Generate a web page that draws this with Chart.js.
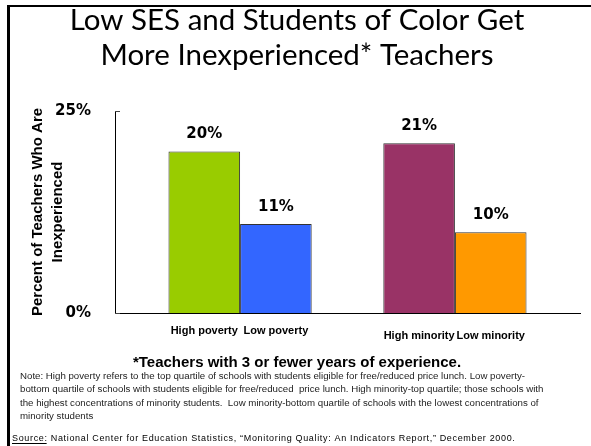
<!DOCTYPE html>
<html>
<head>
<meta charset="utf-8">
<script src="https://cdn.jsdelivr.net/npm/chart.js@4.4.1/dist/chart.umd.min.js"></script>
<style>
    html, body { margin: 0; padding: 0; background: #fff; }
    canvas { display: block; }
</style>
</head>
<body>
<canvas id="barChart" width="591" height="446"></canvas>
<script>
/*global Chart, document*/
'use strict';

// ------------------------------------------------------- //
// Data
// ------------------------------------------------------ //
var categories = ['High poverty', 'Low poverty', 'High minority', 'Low minority'];
var groups = [0, 0, 1, 1];
var percentValues = [20, 11, 21, 10];
var yTicks = [0, 25];
var barColors = ['#99cc00', '#3366ff', '#993366', '#ff9900'];

var titleLines = ['Low SES and Students of Color Get', 'More Inexperienced* Teachers'];
var axisTitle = ['Percent of Teachers Who Are', 'Inexperienced'];
var footnote = '*Teachers with 3 or fewer years of experience.';
var noteLines = [
    'Note: High poverty refers to the top quartile of schools with students eligible for free/reduced price lunch. Low poverty-',
    'bottom quartile of schools with students eligible for free/reduced  price lunch. High minority-top quartile; those schools with',
    'the highest concentrations of minority students.  Low minority-bottom quartile of schools with the lowest concentrations of',
    'minority students'
];
var sourceLabel = 'Source:';
var sourceText = ' National Center for Education Statistics, \u201cMonitoring Quality: An Indicators Report,\u201d December 2000.';

// one bar per dataset, an empty dataset leaves the gap between the two groups
var datasets = [];
categories.forEach(function (name, i) {
    if (i > 0 && groups[i] !== groups[i - 1]) {
        datasets.push({ label: '', data: [null] });
    }
    datasets.push({
        label: name,
        catIndex: i,
        data: [percentValues[i]],
        backgroundColor: barColors[i],
        borderColor: '#333333',
        borderWidth: 1
    });
});

var centerX = 297;

var slidePlugin = {
    id: 'slideText',
    beforeDraw: function (chart) {
        var ctx = chart.ctx;
        ctx.save();
        ctx.fillStyle = '#ffffff';
        ctx.fillRect(0, 0, chart.width, chart.height);
        // slide frame
        ctx.fillStyle = '#000000';
        ctx.fillRect(7, 5, chart.width - 7, 2);
        ctx.fillRect(7, 5, 3, chart.height - 5);
        ctx.restore();
    },
    afterDatasetsDraw: function (chart) {
        var ctx = chart.ctx;
        var area = chart.chartArea;
        ctx.save();
        ctx.fillStyle = '#000000';
        ctx.textAlign = 'center';
        ctx.textBaseline = 'alphabetic';
        chart.data.datasets.forEach(function (ds, d) {
            if (ds.catIndex === undefined) {
                return;
            }
            var i = ds.catIndex;
            var bar = chart.getDatasetMeta(d).data[0];
            ctx.font = 'bold 15px "DejaVu Sans"';
            ctx.fillText(percentValues[i] + '%', bar.x, bar.y - 13);
            ctx.font = 'bold 11px "Liberation Sans"';
            ctx.fillText(categories[i], bar.x, area.bottom + 21 + groups[i] * 5);
        });

        // small inner ticks on the value axis
        var y = chart.scales.y;
        ctx.strokeStyle = '#444444';
        ctx.lineWidth = 1;
        y.ticks.forEach(function (t) {
            var py = Math.round(y.getPixelForValue(t.value)) + 0.5;
            ctx.beginPath();
            ctx.moveTo(area.left, py);
            ctx.lineTo(area.left + 5, py);
            ctx.stroke();
        });
        ctx.restore();
    },
    afterDraw: function (chart) {
        var ctx = chart.ctx;
        ctx.save();
        ctx.fillStyle = '#000000';
        ctx.textAlign = 'center';
        ctx.textBaseline = 'alphabetic';

        ctx.font = '29.5px Lato';
        ctx.fillText(titleLines[0], centerX, 30);
        ctx.fillText(titleLines[1], centerX, 65);

        ctx.font = 'bold 15px "Liberation Sans"';
        ctx.fillText(footnote, centerX, 367);

        ctx.textAlign = 'left';
        ctx.fillStyle = '#222222';
        ctx.font = '9.7px "Liberation Sans"';
        noteLines.forEach(function (line, k) {
            ctx.fillText(line, 20, 379 + k * 13.3);
        });

        ctx.fillStyle = '#000000';
        ctx.font = '9px "Liberation Sans"';
        ctx.letterSpacing = '0.66px';
        var w = ctx.measureText(sourceLabel).width;
        ctx.fillText(sourceLabel, 12, 441);
        ctx.fillText(sourceText, 12 + w, 441);
        ctx.fillRect(12, 443, w - 1, 1);
        ctx.restore();
    }
};

var BARCHART = document.getElementById('barChart');
var myBarChart = new Chart(BARCHART, {
    type: 'bar',
    data: {
        labels: [''],
        datasets: datasets
    },
    plugins: [slidePlugin],
    options: {
        responsive: false,
        animation: false,
        layout: {
            padding: { top: 111, right: 11, left: 0, bottom: 0 }
        },
        datasets: {
            bar: { categoryPercentage: 0.77, barPercentage: 1.0 }
        },
        plugins: {
            legend: { display: false },
            tooltip: { enabled: false }
        },
        scales: {
            x: {
                grid: { display: false },
                border: { color: '#000000', width: 1 },
                ticks: { display: false },
                afterFit: function (scale) {
                    scale.height = 133;
                }
            },
            y: {
                min: 0,
                max: 25,
                afterBuildTicks: function (scale) {
                    scale.ticks = yTicks.map(function (v) {
                        return { value: v };
                    });
                },
                grid: { display: false },
                border: { color: '#000000', width: 1 },
                ticks: {
                    padding: 16,
                    color: '#000000',
                    font: { family: 'DejaVu Sans', weight: 'bold', size: 15 },
                    callback: function (v) {
                        return v + '%';
                    }
                },
                title: {
                    display: true,
                    text: axisTitle,
                    color: '#000000',
                    font: { family: 'Liberation Sans', weight: 'bold', size: 15, lineHeight: 1.33 },
                    padding: { top: 28, bottom: 0 }
                },
                afterFit: function (scale) {
                    scale.width = 115;
                }
            }
        }
    }
});
</script>
</body>
</html>
